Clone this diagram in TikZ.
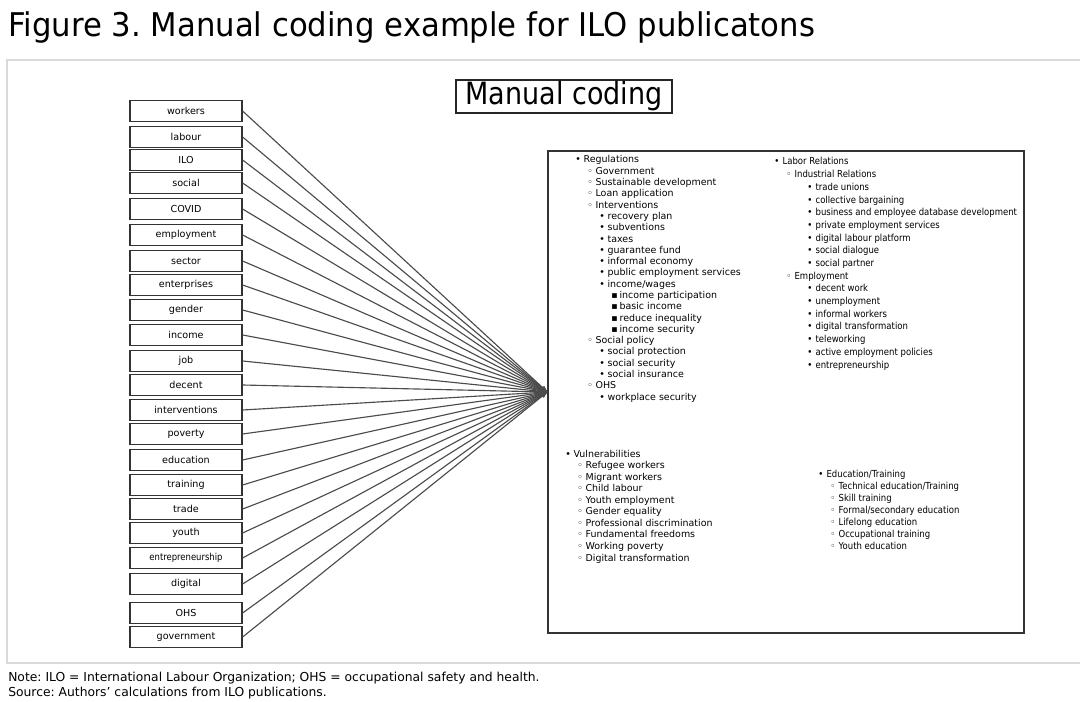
\documentclass[tikz,border=0pt]{standalone}
\usepackage{fontspec}
\setmainfont{DejaVu Sans}
\newfontfamily\cond[FakeStretch=0.88]{DejaVu Sans}
\newfontfamily\condt[FakeStretch=0.94]{DejaVu Sans}
\usetikzlibrary{arrows.meta}
\frenchspacing
\newcommand\bul[1]{\makebox[6.25pt][l]{\ifcase#1\or •\or ◦\or •\or ▪\fi}}
\begin{document}
\begin{tikzpicture}[x=0.75pt,y=-0.75pt,
  kw/.style={draw=black!80, line width=0.9pt, minimum width=84pt, minimum height=15.5pt, inner sep=0pt, font=\fontsize{7.2}{8}\selectfont},
  link/.style={draw=black!70, line width=0.85pt, -{Stealth[length=5pt,width=3.5pt]}},
  ln/.style={anchor=base west, inner sep=0pt, font=\fontsize{7.1}{8}\selectfont},
  lnc/.style={anchor=base west, inner sep=0pt, font=\cond\fontsize{7.25}{8}\selectfont},
  note/.style={anchor=base west, inner sep=0pt, font=\fontsize{9.25}{10}\selectfont}]
\useasboundingbox (0,0) rectangle (1080,702);
\fill[white] (0,0) rectangle (1080,702);
\node[anchor=base west, inner sep=0pt, font=\condt\fontsize{24.5}{26}\selectfont] (title) at (8,37) {Figure 3. Manual coding example for ILO publicatons};
\draw[black!15, line width=1.5pt] (1090,60) -- (7,60) -- (7,663) -- (1090,663);
\node[draw=black!85, line width=0.9pt, minimum width=162pt, minimum height=24.75pt, inner sep=0pt, font=\cond\fontsize{23}{25}\selectfont] (mc) at (564,96.5) {Manual coding};
\node[draw=black!80, line width=0.9pt, minimum width=357pt, minimum height=361.5pt, inner sep=0pt] (big) at (786,392) {};
\foreach \y/\t [count=\i] in {111/workers,137/labour,160/ILO,183/social,209/COVID,235/employment,261/sector,285/enterprises,310/gender,335/income,361/job,385/decent,410/interventions,434/poverty,460/education,485/training,509/trade,533/youth,558/{\cond entrepreneurship},584/digital,613/OHS,637/government}
  \node[kw] (k\i) at (186,\y) {\t};
\foreach \i in {1,...,22}
  \draw[link] (k\i.east) -- (big.west);
% Regulations column
\foreach \dx/\b/\t [count=\i] in {0/1/Regulations,12/2/Government,12/2/Sustainable development,12/2/Loan application,12/2/Interventions,24/3/recovery plan,24/3/subventions,24/3/taxes,24/3/guarantee fund,24/3/informal economy,24/3/public employment services,24/3/{income/wages},36/4/income participation,36/4/basic income,36/4/reduce inequality,36/4/income security,12/2/Social policy,24/3/social protection,24/3/social security,24/3/social insurance,12/2/OHS,24/3/workplace security}
  \node[ln] (reg\i) at ({575+\dx},{163+11.29*(\i-1)}) {\bul{\b}\t};
% Labor Relations column
\foreach \dx/\b/\t [count=\i] in {0/1/Labor Relations,12/2/Industrial Relations,33/3/trade unions,33/3/collective bargaining,33/3/business and employee database development,33/3/private employment services,33/3/digital labour platform,33/3/social dialogue,33/3/social partner,12/2/Employment,33/3/decent work,33/3/unemployment,33/3/informal workers,33/3/digital transformation,33/3/teleworking,33/3/active employment policies,33/3/entrepreneurship}
  \node[lnc] (lab\i) at ({774+\dx},{165+12.69*(\i-1)}) {\bul{\b}\t};
% Vulnerabilities column
\foreach \dx/\b/\t [count=\i] in {0/1/Vulnerabilities,12/2/Refugee workers,12/2/Migrant workers,12/2/Child labour,12/2/Youth employment,12/2/Gender equality,12/2/Professional discrimination,12/2/Fundamental freedoms,12/2/Working poverty,12/2/Digital transformation}
  \node[ln] (vul\i) at ({565+\dx},{457+11.56*(\i-1)}) {\bul{\b}\t};
% Education column
\foreach \dx/\b/\t [count=\i] in {0/1/{Education/Training},12/2/{Technical education/Training},12/2/Skill training,12/2/{Formal/secondary education},12/2/Lifelong education,12/2/Occupational training,12/2/Youth education}
  \node[lnc] (edu\i) at ({818+\dx},{477+12*(\i-1)}) {\bul{\b}\t};
\node[note] (n1) at (8,681) {Note: ILO = International Labour Organization; OHS = occupational safety and health.};
\node[note] (n2) at (8,696) {Source: Authors’ calculations from ILO publications.};
\end{tikzpicture}
\end{document}
